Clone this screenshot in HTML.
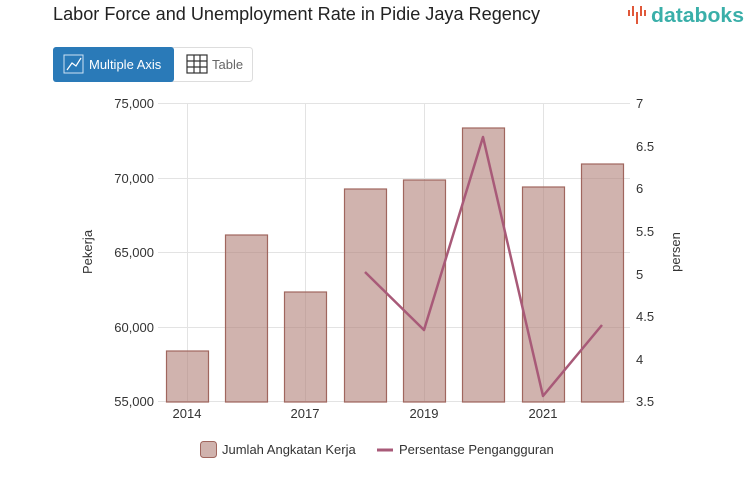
<!DOCTYPE html>
<html><head><meta charset="utf-8"><style>
body{margin:0;width:753px;height:498px;background:#fff;font-family:"Liberation Sans",sans-serif;overflow:hidden}
</style></head><body>
<svg width="753" height="498" xmlns="http://www.w3.org/2000/svg" font-family="Liberation Sans, sans-serif">
<text x="53" y="20" font-size="18" fill="#222" textLength="487" lengthAdjust="spacingAndGlyphs">Labor Force and Unemployment Rate in Pidie Jaya Regency</text>
<g fill="#e0583a"><rect x="628" y="10" width="2" height="6"/><rect x="632" y="6" width="2" height="10"/><rect x="636" y="12" width="2" height="12"/><rect x="640" y="6" width="2" height="10"/><rect x="644" y="10" width="2" height="6"/></g>
<text x="651" y="22" font-size="20" fill="#3aafa9" font-weight="bold" textLength="93" lengthAdjust="spacingAndGlyphs">databoks</text>
<rect x="53.5" y="47.5" width="199" height="34" rx="3" fill="#fff" stroke="#ddd"/>
<rect x="53" y="47" width="121" height="35" rx="3" fill="#2a7ab8"/>
<rect x="64" y="55" width="19" height="18" fill="none" stroke="#cfe3f3" stroke-width="1"/>
<polyline points="67,70 72,63 76,66 81,58" fill="none" stroke="#fff" stroke-width="1.2"/>
<text x="89" y="69" font-size="13" fill="#fff">Multiple Axis</text>
<g stroke="#333" stroke-width="1.2" fill="none"><rect x="187" y="55" width="20" height="18"/><line x1="187" y1="61" x2="207" y2="61"/><line x1="187" y1="67" x2="207" y2="67"/><line x1="194" y1="55" x2="194" y2="73"/><line x1="200" y1="55" x2="200" y2="73"/></g>
<text x="212" y="69" font-size="13" fill="#666">Table</text>
<g stroke="#e3e3e3" stroke-width="1">
<line x1="158" y1="103.5" x2="630" y2="103.5"/><line x1="158" y1="178.5" x2="630" y2="178.5"/><line x1="158" y1="252.5" x2="630" y2="252.5"/><line x1="158" y1="327.5" x2="630" y2="327.5"/><line x1="158" y1="401.5" x2="630" y2="401.5"/>
<line x1="187.5" y1="103" x2="187.5" y2="402"/><line x1="305.5" y1="103" x2="305.5" y2="402"/><line x1="424.5" y1="103" x2="424.5" y2="402"/><line x1="543.5" y1="103" x2="543.5" y2="402"/>
</g>
<g fill="#b08078" fill-opacity="0.6" stroke="#a0665e" stroke-width="1.2">
<rect x="166.5" y="351" width="42" height="51"/>
<rect x="225.5" y="235" width="42" height="167"/>
<rect x="284.5" y="292" width="42" height="110"/>
<rect x="344.5" y="189" width="42" height="213"/>
<rect x="403.5" y="180" width="42" height="222"/>
<rect x="462.5" y="128" width="42" height="274"/>
<rect x="522.5" y="187" width="42" height="215"/>
<rect x="581.5" y="164" width="42" height="238"/>
</g>
<polyline points="365,272 424,330 483,137 543,396 602,325" fill="none" stroke="#a85a78" stroke-width="2.5" stroke-linejoin="round"/>
<g font-size="13" fill="#333" text-anchor="end">
<text x="154" y="108">75,000</text><text x="154" y="183">70,000</text><text x="154" y="257">65,000</text><text x="154" y="332">60,000</text><text x="154" y="406">55,000</text>
</g>
<g font-size="13" fill="#333">
<text x="636" y="108">7</text><text x="636" y="151">6.5</text><text x="636" y="193">6</text><text x="636" y="236">5.5</text><text x="636" y="279">5</text><text x="636" y="321">4.5</text><text x="636" y="364">4</text><text x="636" y="406">3.5</text>
</g>
<g font-size="13" fill="#333" text-anchor="middle">
<text x="187" y="418">2014</text><text x="305" y="418">2017</text><text x="424" y="418">2019</text><text x="543" y="418">2021</text>
</g>
<text transform="translate(92,252) rotate(-90)" font-size="13" fill="#333" text-anchor="middle">Pekerja</text>
<text transform="translate(680,252) rotate(-90)" font-size="13" fill="#333" text-anchor="middle">persen</text>
<rect x="200.5" y="441.5" width="16" height="16" rx="3" fill="#b08078" fill-opacity="0.6" stroke="#a0665e"/>
<text x="222" y="454" font-size="13" fill="#333">Jumlah Angkatan Kerja</text>
<line x1="377" y1="450" x2="393" y2="450" stroke="#a85a78" stroke-width="3"/>
<text x="399" y="454" font-size="13" fill="#333">Persentase Pengangguran</text>
</svg>
</body></html>
